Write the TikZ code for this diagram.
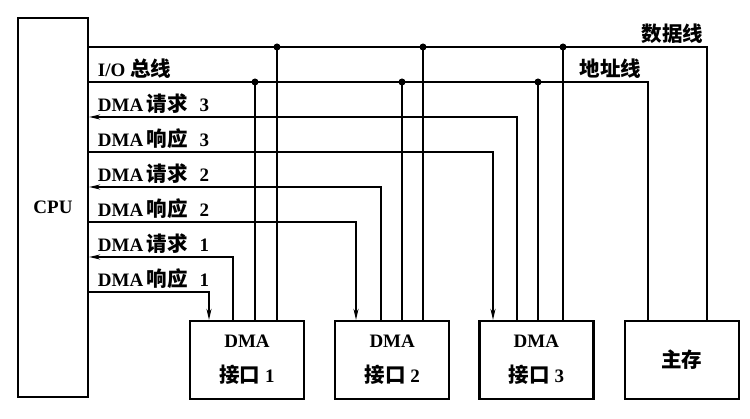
\documentclass[tikz,border=0pt]{standalone}
\usepackage{fontspec}
\setmainfont{Liberation Serif}
\newfontfamily\cjk{Noto Sans CJK SC}[Scale=1.08]
\newcommand{\zh}[1]{{\cjk #1}}
\usetikzlibrary{arrows.meta, positioning}
\tikzset{
  box/.style={draw, line width=2.2pt, inner sep=0pt, minimum width=114pt,
    minimum height=78pt, align=center},
  tap/.style={circle, fill, inner sep=0pt, minimum size=7pt},
  lbl/.style={anchor=base west, inner sep=0pt, xshift=8pt, yshift=5pt}
}
\begin{document}
\begin{tikzpicture}[x=1pt, y=-1pt, >={Stealth[length=11pt, width=5pt]},
    line width=1.7pt, font=\fontsize{19}{35}\selectfont\bfseries]
  \useasboundingbox (0,0) rectangle (750,419);
  % units
  \node[box, minimum width=70pt, minimum height=379pt] (cpu) at (53,207.5) {CPU};
  \node[box] (dma1) at (247,360) {DMA\\\zh{接口}\ 1};
  \node[box, right=29pt of dma1] (dma2) {DMA\\\zh{接口}\ 2};
  \node[box, right=28pt of dma2] (dma3) {DMA\\\zh{接口}\ 3};
  \node[box, right=29pt of dma3] (mem) {\zh{主存}};
  % data and address lines
  \coordinate (data) at (0,47);
  \coordinate (addr) at (0,82);
  \draw (cpu.east |- data) -| (mem.north -| 707,0)
    node[pos=0.5, above left, inner sep=3pt] {\zh{数据线}};
  \draw (cpu.east |- addr) node[lbl] {I/O \zh{总线}} -| (mem.north -| 648,0)
    node[pos=0.5, above left, inner sep=3pt, xshift=-3pt] {\zh{地址线}};
  % request / response lines of each interface
  \foreach \i/\xr/\xq/\xa/\xd/\yq in {1/209/233/255/277/257, 2/356/381/402/423/187, 3/493/517/538/563/117} {
    \draw (dma\i.north -| \xa,0) -- (addr -| \xa,0) node[tap] {};
    \draw (dma\i.north -| \xd,0) -- (data -| \xd,0) node[tap] {};
    \draw[<-] (cpu.east |- 0,\yq) node[lbl] {DMA\,\zh{请求}\hspace{12pt}\i} -| (dma\i.north -| \xq,0);
    \draw[->] (cpu.east |- 0,\yq+35) node[lbl] {DMA\,\zh{响应}\hspace{12pt}\i} -| (dma\i.north -| \xr,0);
  }
\end{tikzpicture}
\end{document}
